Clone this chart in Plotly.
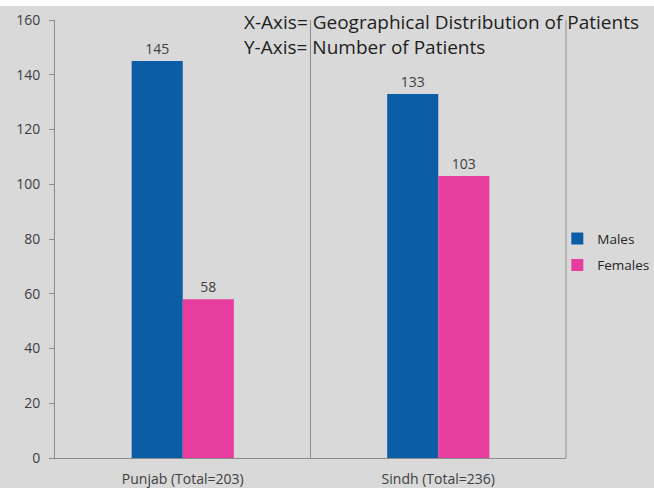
import plotly.graph_objects as go

regions = ["Punjab (Total=203)", "Sindh (Total=236)"]
males = [145, 133]
females = [58, 103]
y_ticks = [0, 20, 40, 60, 80, 100, 120, 140, 160]
note_lines = ["X-Axis= Geographical Distribution of Patients", "Y-Axis= Number of Patients"]

FONT = "Open Sans"
TXT = "#404040"
AXIS = "#8c8c8c"
BG = "#d9d9d9"

fig = go.Figure()
fig.add_trace(go.Bar(
    name="Males", x=regions, y=males, marker_color="#0b5ea6", marker_line_width=0,
    legendgroup="m",
    text=males, textposition="outside", textfont=dict(size=14, color=TXT, family=FONT),
    cliponaxis=False,
))
fig.add_trace(go.Bar(
    name="Females", x=regions, y=females, marker_color="#e63d9f", marker_line_width=0,
    legendgroup="f",
    text=females, textposition="outside", textfont=dict(size=14, color=TXT, family=FONT),
    cliponaxis=False,
))

# gray panel below a thin white strip at the top
fig.add_shape(type="rect", xref="paper", yref="paper",
              x0=-0.12, x1=1.25, y0=-0.08, y1=1.032,
              fillcolor=BG, line_width=0, layer="below")
# divider between the two regions and right border
fig.add_shape(type="line", xref="x", yref="paper", x0=0.5, x1=0.5, y0=0, y1=1,
              line=dict(color=AXIS, width=1))
fig.add_shape(type="line", xref="paper", yref="paper", x0=1, x1=1, y0=0, y1=1,
              line=dict(color=AXIS, width=1))

fig.add_annotation(
    text="<br>".join(note_lines), xref="paper", yref="paper",
    x=0.366, y=1.03, xanchor="left", yanchor="top", align="left", showarrow=False,
    font=dict(size=19, color="#1f1f1f", family=FONT),
)

fig.update_layout(
    width=654, height=488,
    margin=dict(l=55, r=88, t=20, b=30, autoexpand=False),
    paper_bgcolor="white", plot_bgcolor=BG,
    barmode="group", bargap=0.6, bargroupgap=0,
    font=dict(family=FONT, color=TXT, size=14),
    legend=dict(x=0.983, y=0.47, xanchor="left", yanchor="middle",
                bgcolor="rgba(0,0,0,0)", font=dict(size=13.5, color="#262626"),
                itemwidth=30, tracegroupgap=6),
    showlegend=True,
)
fig.update_xaxes(showline=True, linecolor=AXIS, linewidth=1, showgrid=False,
                 ticks="", ticklabelstandoff=8, tickfont=dict(size=14, color=TXT))
fig.update_yaxes(range=[0, 160], tickvals=y_ticks, showline=True, linecolor=AXIS,
                 linewidth=1, showgrid=False, ticks="outside", ticklen=5,
                 ticklabelstandoff=6,
                 tickcolor=AXIS, zeroline=False, tickfont=dict(size=14, color=TXT))

fig.write_html("out.html")
